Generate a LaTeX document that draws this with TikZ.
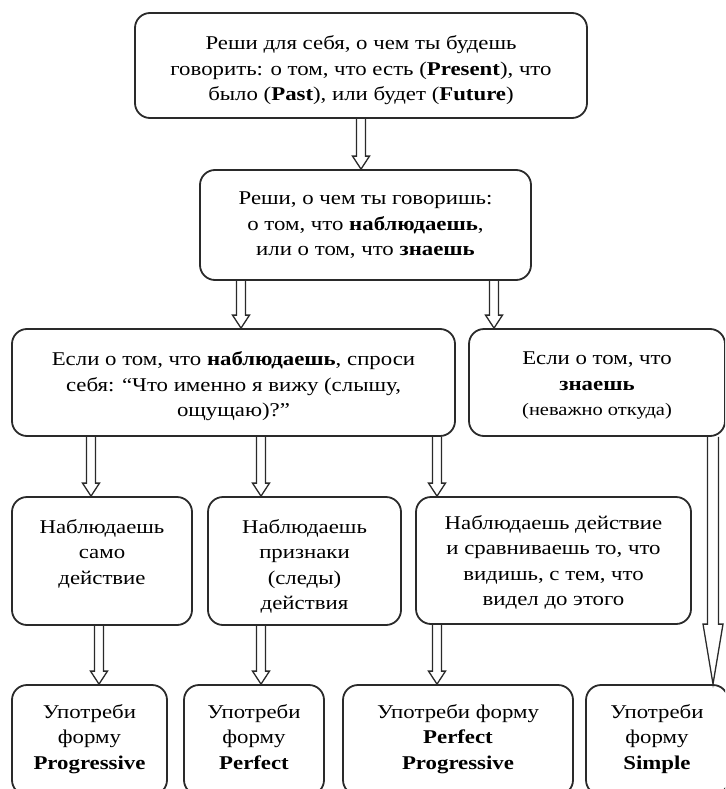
\documentclass[tikz,border=0pt]{standalone}
\usepackage{fontspec}
\setmainfont[FakeStretch=1.17]{Liberation Serif}
\usetikzlibrary{calc}
\pgfdeclarelayer{bg}
\pgfsetlayers{bg,main}
\definecolor{linec}{HTML}{2A2A2A}
\newcommand\tbeg[1]{\rule{0pt}{#1}}
\newcommand\tend{\strut}
\tikzset{
  box/.style={draw=linec, line width=1.8pt, rounded corners=15pt, align=center,
    inner sep=0pt, font=\fontsize{19.5}{25.5}\selectfont},
  harrow/.style n args={3}{draw=linec, fill=white, line width=1.3pt,
    to path={let \p1=(\tikztostart), \p2=(\tikztotarget) in
      (\x1-#1,\y1) -- (\x1-#1,\y2+#3) -- (\x1-#2,\y2+#3) -- (\x1,\y2)
      -- (\x1+#2,\y2+#3) -- (\x1+#1,\y2+#3) -- (\x1+#1,\y1)}},
  hollow/.style={harrow={4.5pt}{8.5pt}{13pt}},
  hollowlong/.style={harrow={5.5pt}{10pt}{60pt}},
}
\begin{document}
\begin{tikzpicture}[x=1pt,y=-1pt]
\useasboundingbox (0,0) rectangle (725,789);
\clip (0,0) rectangle (725,789);
\begin{pgfonlayer}{bg}
\fill[white] (0,0) rectangle (725,789);
\end{pgfonlayer}

% boxes
\node[box, minimum width=452pt, minimum height=105pt] (T) at (361,65.5)
  {\tbeg{26.65pt}Реши для себя, о чем ты будешь\\ говорить: о том, что есть (\textbf{Present}), что\\ было (\textbf{Past}), или будет (\textbf{Future})\tend};
\node[box, minimum width=331pt, minimum height=110pt] (B2) at (365.5,225)
  {\tbeg{17.65pt}Реши, о чем ты говоришь:\\ о том, что \textbf{наблюдаешь},\\ или о том, что \textbf{знаешь}\tend};
\node[box, minimum width=443pt, minimum height=107pt] (B3) at (233.5,382.5)
  {\tbeg{24.65pt}Если о том, что \textbf{наблюдаешь}, спроси\\ себя: “Что именно я вижу (слышу,\\ ощущаю)?”\tend};
\node[box, minimum width=256pt, minimum height=107pt] (B4) at (597,382.5)
  {\tbeg{22.65pt}Если о том, что\\ \textbf{знаешь}\\ {\fontsize{17.5}{25.5}\selectfont(неважно откуда)}\tend};
\node[box, minimum width=180pt, minimum height=128pt] (A) at (102,561)
  {\tbeg{28.65pt}Наблюдаешь\\ само\\ действие\\ \tend};
\node[box, minimum width=193pt, minimum height=128pt] (Bm) at (304.5,561)
  {\tbeg{28.65pt}Наблюдаешь\\ признаки\\ (следы)\\ действия\tend};
\node[box, minimum width=275pt, minimum height=127pt] (C) at (553.5,560.5)
  {\tbeg{21.65pt}Наблюдаешь действие\\ и сравниваешь то, что\\ видишь, с тем, что\\ видел до этого\tend};
\node[box, minimum width=155pt, minimum height=110pt] (P) at (89.5,740)
  {\tbeg{14.65pt}Употреби\\ форму\\ \textbf{Progressive}\tend};
\node[box, minimum width=140pt, minimum height=110pt] (Pf) at (254,740)
  {\tbeg{14.65pt}Употреби\\ форму\\ \textbf{Perfect}\tend};
\node[box, minimum width=230pt, minimum height=110pt] (PP) at (458,740)
  {\tbeg{14.65pt}Употреби форму\\ \textbf{Perfect}\\ \textbf{Progressive}\tend};
\node[box, minimum width=142pt, minimum height=110pt] (S) at (657,740)
  {\tbeg{14.65pt}Употреби\\ форму\\ \textbf{Simple}\tend};

% arrow columns
\coordinate (x1) at (361,0);
\coordinate (x2) at (241,0);
\coordinate (x3) at (494,0);
\coordinate (x4) at (91,0);
\coordinate (x5) at (261,0);
\coordinate (x6) at (437,0);
\coordinate (x7) at (99,0);
\coordinate (x8) at (713,0);

\begin{pgfonlayer}{bg}
\draw[hollow] (T.south -| x1) to (B2.north -| x1);
\draw[hollow] (B2.south -| x2) to (B3.north -| x2);
\draw[hollow] (B2.south -| x3) to (B4.north -| x3);
\draw[hollow] (B3.south -| x4) to (A.north -| x4);
\draw[hollow] (B3.south -| x5) to (Bm.north -| x5);
\draw[hollow] (B3.south -| x6) to (C.north -| x6);
\draw[hollow] (A.south -| x7) to (P.north -| x7);
\draw[hollow] (Bm.south -| x5) to (Pf.north -| x5);
\draw[hollow] (C.south -| x6) to (PP.north -| x6);
\draw[hollowlong] (B4.south -| x8) to (S.north -| x8);
\end{pgfonlayer}
\end{tikzpicture}
\end{document}
